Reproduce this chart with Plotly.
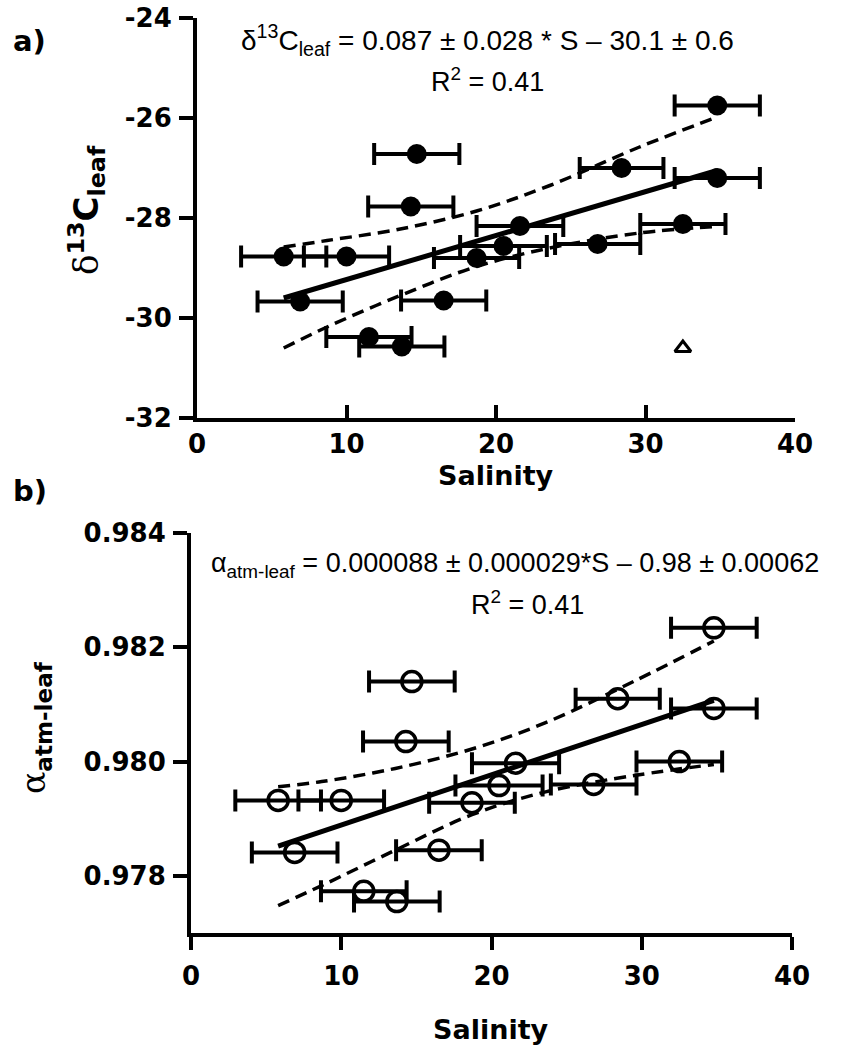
import plotly.graph_objects as go

# ---------------- data ----------------
salinity = [34.8, 34.8, 28.4, 32.5, 26.8, 21.6, 20.5, 18.7, 16.5, 14.7, 14.3, 5.8, 10.0, 6.9, 11.5, 13.7]
salinity_err = [2.85, 2.85, 2.8, 2.85, 2.85, 2.9, 2.9, 2.85, 2.85, 2.85, 2.85, 2.85, 2.85, 2.85, 2.85, 2.85]
d13c_leaf = [-25.75, -27.2, -27.0, -28.12, -28.52, -28.16, -28.56, -28.8, -29.65, -26.72, -27.77,
             -28.77, -28.77, -29.67, -30.38, -30.57]
alpha_atm_leaf = [0.98234, 0.98093, 0.98110, 0.98000, 0.97960, 0.97997, 0.97958, 0.97928, 0.97845,
                  0.98140, 0.98035, 0.97932, 0.97932, 0.97841, 0.97773, 0.97755]

outlier_s = [32.5]
outlier_d13c = [-30.6]

fit_s = [5.8, 34.8]
fit_a = [-29.6, -27.05]
fit_b = [0.97852, 0.98107]

band_s = [5.8, 8.7, 13.6, 18.7, 23.6, 29.6, 34.8]
band_a_upper = [-28.58, -28.45, -28.22, -27.86, -27.35, -26.58, -25.98]
band_a_lower = [-30.6, -30.18, -29.55, -28.97, -28.6, -28.3, -28.17]
band_b_upper = [0.97956, 0.97965, 0.97988, 0.98022, 0.98068, 0.98142, 0.98211]
band_b_lower = [0.97748, 0.97783, 0.97845, 0.97907, 0.97947, 0.97976, 0.97995]

x_ticks = [0, 10, 20, 30, 40]
x_ticktext = ["0", "10", "20", "30", "40"]
ya_ticks = [-32, -30, -28, -26, -24]
ya_ticktext = ["-32", "-30", "-28", "-26", "-24"]
yb_ticks = [0.978, 0.980, 0.982, 0.984]
yb_ticktext = ["0.978", "0.980", "0.982", "0.984"]

# ---------------- figure ----------------
W, H = 849, 1057
FONT = "Liberation Sans, Arial, sans-serif"
BOLD = "DejaVu Sans, Liberation Sans, sans-serif"
BLACK = "black"

fig = go.Figure()


def px_x(p):
    return p / W


def px_y(p):
    return 1 - p / H


for up, lo, xa, ya in [(band_a_upper, band_a_lower, "x", "y"), (band_b_upper, band_b_lower, "x2", "y2")]:
    for band in (up, lo):
        fig.add_trace(go.Scatter(x=band_s, y=band, mode="lines", xaxis=xa, yaxis=ya,
                                 line=dict(color=BLACK, width=3.5, dash="12px,7px", shape="spline"),
                                 showlegend=False, hoverinfo="skip"))

fig.add_trace(go.Scatter(x=fit_s, y=fit_a, mode="lines", xaxis="x", yaxis="y",
                         line=dict(color=BLACK, width=5), showlegend=False))
fig.add_trace(go.Scatter(x=fit_s, y=fit_b, mode="lines", xaxis="x2", yaxis="y2",
                         line=dict(color=BLACK, width=5), showlegend=False))

fig.add_trace(go.Scatter(x=salinity, y=d13c_leaf, mode="markers", xaxis="x", yaxis="y",
                         marker=dict(symbol="circle", size=20, color=BLACK),
                         error_x=dict(type="data", array=salinity_err, color=BLACK, thickness=4, width=11),
                         showlegend=False))
fig.add_trace(go.Scatter(x=outlier_s, y=outlier_d13c, mode="markers", xaxis="x", yaxis="y",
                         marker=dict(symbol="triangle-up-open", size=14, color=BLACK, line=dict(width=3)),
                         showlegend=False))
fig.add_trace(go.Scatter(x=salinity, y=alpha_atm_leaf, mode="markers", xaxis="x2", yaxis="y2",
                         marker=dict(symbol="circle-open", size=20, color=BLACK, line=dict(width=3.5, color=BLACK)),
                         error_x=dict(type="data", array=salinity_err, color=BLACK, thickness=4, width=11),
                         showlegend=False))

tickfont = dict(family=BOLD, size=26, color=BLACK, weight="bold")
common = dict(showline=True, linewidth=4, linecolor=BLACK, showgrid=False, zeroline=False,
              tickwidth=4, tickcolor=BLACK, tickfont=tickfont, automargin=False)


def bold(labels):
    return ["<b>%s</b>" % t for t in labels]


fig.update_layout(
    width=W, height=H,
    margin=dict(l=0, r=0, t=0, b=0),
    plot_bgcolor="white", paper_bgcolor="white",
    xaxis=dict(domain=[px_x(197), px_x(795)], range=[0, 40], tickvals=x_ticks, ticktext=bold(x_ticktext),
               ticks="inside", ticklen=13, anchor="y", ticklabelstandoff=0, **common),
    yaxis=dict(domain=[px_y(418), px_y(18)], range=[-32, -24], tickvals=ya_ticks, ticktext=bold(ya_ticktext),
               ticks="outside", ticklen=14, anchor="x", ticklabelstandoff=2, **common),
    xaxis2=dict(domain=[px_x(191), px_x(792)], range=[0, 40], tickvals=x_ticks, ticktext=bold(x_ticktext),
                ticks="outside", ticklen=13, anchor="y2", ticklabelstandoff=4, **common),
    yaxis2=dict(domain=[px_y(933), px_y(533)], range=[0.977, 0.984], tickvals=yb_ticks,
                ticktext=bold(yb_ticktext), ticks="outside", ticklen=14, anchor="x2", ticklabelstandoff=2,
                **common),
)


def ann(text, x, y, size, family=FONT, angle=0, xanchor="center"):
    fig.add_annotation(text=text, x=px_x(x), y=px_y(y), xref="paper", yref="paper",
                       xanchor=xanchor, yanchor="middle", showarrow=False, textangle=angle,
                       font=dict(family=family, size=size, color=BLACK))


ann("<b>a)</b>", 11, 41, 29, family=BOLD, xanchor="left")
ann("<b>b)</b>", 11, 491, 29, family=BOLD, xanchor="left")

ann("δ<sup>13</sup>C<sub>leaf</sub> = 0.087 ± 0.028 * S – 30.1 ± 0.6", 487, 40, 28)
ann("R<sup>2</sup> = 0.41", 487, 80, 27)
ann("α<sub>atm-leaf</sub> = 0.000088 ± 0.000029*S – 0.98 ± 0.00062", 515, 565, 27)
ann("R<sup>2</sup> = 0.41", 527, 603, 27)

ann("<b>Salinity</b>", 496, 475, 27, family=BOLD)
ann("<b>Salinity</b>", 491, 1029, 27, family=BOLD)

ann("<span style='font-family:DejaVu Serif'>δ</span><b><sup>13</sup>C<sub>leaf</sub></b>", 86, 210, 34,
    family=BOLD, angle=-90)
ann("<span style='font-family:DejaVu Serif'>α</span><b><sub>atm-leaf</sub></b>", 35, 728, 33,
    family=BOLD, angle=-90)

fig.write_html("out.html")
